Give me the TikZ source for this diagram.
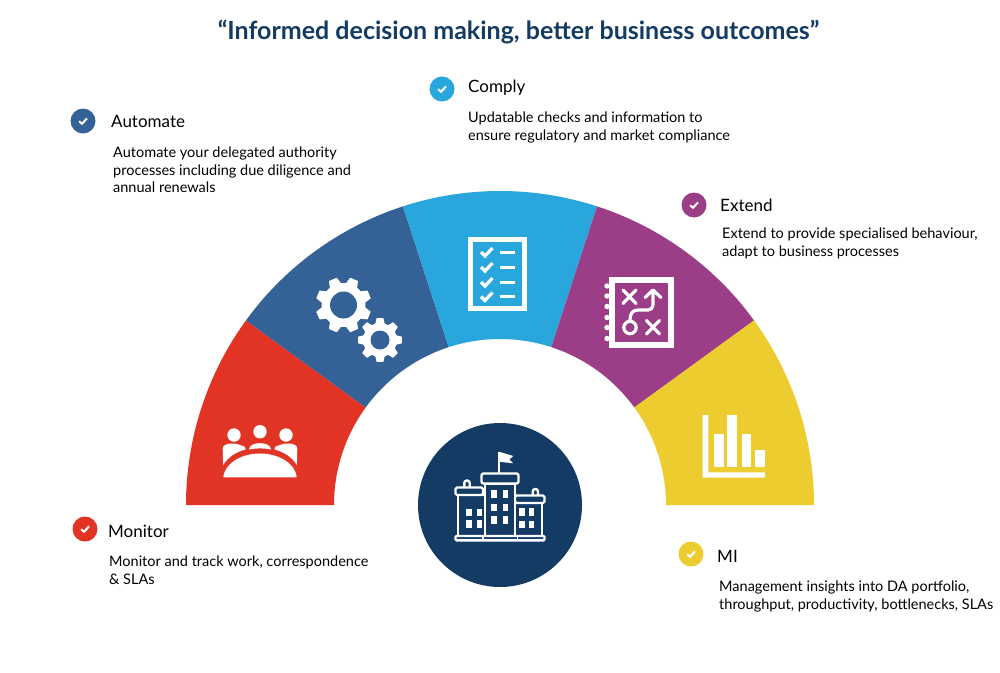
\documentclass[tikz,border=0pt]{standalone}
\usepackage{fontspec}
\usetikzlibrary{calc}
\setmainfont{Lato}
\definecolor{cred}{HTML}{E23424}
\definecolor{cblue}{HTML}{356296}
\definecolor{ccyan}{HTML}{29A7DC}
\definecolor{cpurple}{HTML}{9B3D87}
\definecolor{cyell}{HTML}{ECCC2F}
\definecolor{cnavy}{HTML}{143B64}
\newcommand\gearicon[6]{%
  \begin{scope}[shift={(#1,#2)}]
    \fill[white,draw=white,line width=1,line join=round]
      ({#6-15}:#4)
      \foreach \k [evaluate=\k as \b using 45*\k+#6-15, evaluate=\k as \c using 45*\k+#6-8, evaluate=\k as \d using 45*\k+#6+8, evaluate=\k as \e using 45*\k+#6+15] in {0,...,7}{
        -- (\b:#4) -- (\c:#3) -- (\d:#3) -- (\e:#4)
      } -- cycle;
    \fill[cblue] (0,0) circle[radius=#5];
  \end{scope}}
\newcommand\tickmark[1]{\draw[white,line width=2] ([shift={(-3.8,0.2)}]#1.center) -- ([shift={(-1,2.8)}]#1.center) -- ([shift={(4,-2.6)}]#1.center);}
\tikzset{
  x=1pt,y=-1pt,
  bulletdot/.style={circle,minimum size=25,inner sep=0,fill=#1},
  headtext/.style={anchor=base west,inner sep=0,font=\fontsize{17}{20}\selectfont,text=black},
  bodytext/.style={anchor=north west,inner sep=0,align=left,font=\fontsize{14.5}{17.7}\selectfont,text=black},
  iconline/.style={draw=white,line width=3.2,line cap=round,line join=round},
  bldg/.style={draw=white,line width=2.4,fill=cnavy,line join=round},
}
\begin{document}
\begin{tikzpicture}
\useasboundingbox (0,0) rectangle (1000,672);
\fill[white] (0,0) rectangle (1000,672);
% wedges
\coordinate (c) at (500,505);
\foreach \s/\col in {-180/cred,-144/cblue,-108/ccyan,-72/cpurple,-36/cyell}{
  \pgfmathsetmacro\t{\s+36}
  \fill[\col] ($(c)+(\s:314)$) arc[start angle=\s,end angle=\t,radius=314]
     -- ($(c)+(\t:166)$) arc[start angle=\t,end angle=\s,radius=166] -- cycle;
}
\node[circle,fill=cnavy,minimum size=164,inner sep=0] (hub) at (500,505) {};
% title
\node[anchor=base,inner sep=0,text=cnavy,font=\fontsize{25}{30}\bfseries\selectfont] (title) at (518.5,39) {“Informed decision making, better business outcomes”};
% bullets
\node[bulletdot=cblue] (b1) at (83,121) {}; \tickmark{b1}
\node[bulletdot=ccyan] (b2) at (442,89) {}; \tickmark{b2}
\node[bulletdot=cpurple] (b3) at (694,205) {}; \tickmark{b3}
\node[bulletdot=cred] (b4) at (85,529) {}; \tickmark{b4}
\node[bulletdot=cyell] (b5) at (691,554) {}; \tickmark{b5}
% labels
\node[headtext] (h1) at (111,127) {Automate};
\node[bodytext] (t1) at (113,146.5) {Automate your delegated authority\\processes including due diligence and\\annual renewals};
\node[headtext] (h2) at (468,92) {Comply};
\node[bodytext] (t2) at (468,111.5) {Updatable checks and information to\\ensure regulatory and market compliance};
\node[headtext] (h3) at (720,211) {Extend};
\node[bodytext] (t3) at (722,227.5) {Extend to provide specialised behaviour,\\adapt to business processes};
\node[headtext] (h4) at (108,537) {Monitor};
\node[bodytext] (t4) at (109,555.5) {Monitor and track work, correspondence\\\& SLAs};
\node[headtext] (h5) at (717,562) {MI};
\node[bodytext] (t5) at (719,580.5) {Management insights into DA portfolio,\\throughput, productivity, bottlenecks, SLAs};
% people icon
\fill[white] (234,435) circle[radius=6.7] (260,431.7) circle[radius=6.7] (286,435) circle[radius=6.7];
\fill[white] (223.3,477.3) .. controls (225,462) and (243,453.5) .. (260,453.5) .. controls (277,453.5) and (295,462) .. (296.7,477.3) -- cycle;
\fill[white] (222.7,448.5) .. controls (222.7,443.5) and (234,441) .. (245,447) -- (245.5,449.5) .. controls (236,452) and (228,457) .. (223.2,465) -- cycle;
\fill[white] (297.3,448.5) .. controls (297.3,443.5) and (286,441) .. (275,447) -- (274.5,449.5) .. controls (284,452) and (292,457) .. (296.8,465) -- cycle;
\fill[white] (249,449.5) .. controls (249,441) and (271,441) .. (271,449.5) .. controls (264,448) and (256,448) .. (249,449.5) -- cycle;
% gears
\gearicon{343.5}{305}{27.5}{21.5}{13.5}{22.5}
\gearicon{380}{340}{21.5}{16.5}{9.5}{0}
% checklist
\draw[white,line width=5] (470.8,239.8) rectangle (524.2,308.2);
\foreach \yy in {252,267,282,296.5}{
  \draw[white,line width=3.2] (481,\yy) -- (485,\yy+4) -- (492.5,\yy-4);
  \draw[white,line width=3] (499.5,\yy) -- (515,\yy);
}
% notebook
\draw[white,line width=6] (612.4,279.7) rectangle (671,345.3);
\foreach \yy in {286,296,306.5,317.5,327.5,338.5}{\fill[white] (607,\yy) circle[radius=2.7];}
\draw[iconline] (623,290) -- (636,303.5) (636,290) -- (623,303.5);
\draw[iconline] (646.5,320.5) -- (659.5,334) (659.5,320.5) -- (646.5,334);
\draw[iconline] (630,327.5) circle[radius=6.2];
\draw[iconline] (630,320) .. controls (630,313) and (633,310) .. (638,310) -- (648,310) .. controls (651,310) and (653,308) .. (653,305) -- (653,291.5);
\draw[iconline] (645,297.5) -- (653,290) -- (661,297.5);
% chart
\fill[white] (702.7,415) -- (708.3,415) -- (708.3,472.3) -- (765,472.3) -- (765,477.7) -- (702.7,477.7) -- cycle;
\fill[white] (714,434.3) rectangle (724,466.7);
\fill[white] (727.3,415) rectangle (737.3,466.7);
\fill[white] (741.7,434.3) rectangle (751.3,466.7);
\fill[white] (755.3,450) rectangle (765,466.7);
% building
\draw[white,line width=2] (499,452) -- (499,473);
\fill[white] (499,451.7) -- (513.3,456) -- (509.3,459.4) -- (513.3,463.3) -- (499,461.7) -- cycle;
\draw[bldg,rounded corners=2.5] (464.3,488) -- (464.3,480.5) -- (469.7,480.5) -- (469.7,488);
\draw[bldg,rounded corners=2.5] (532.7,495.5) -- (532.7,489) -- (538,489) -- (538,495.5);
\draw[bldg] (458,495) rectangle (485,536);
\draw[bldg] (515,503) rectangle (541.7,536);
\draw[bldg,rounded corners=1.5] (455.5,487.5) rectangle (483,495);
\draw[bldg,rounded corners=1.5] (515,495.5) rectangle (544.5,503);
\draw[bldg] (485,483.5) rectangle (515,536);
\draw[bldg,rounded corners=2] (481.5,473.5) rectangle (518.5,483.5);
\draw[cnavy,line width=1] (485,478.5) -- (515,478.5);
\draw[bldg,rounded corners=1] (455.5,536) rectangle (544.5,540.3);
\draw[white,line width=1.6] (482.7,536) -- (482.7,540.3) (517.3,536) -- (517.3,540.3);
\foreach \xx/\yy in {469/512.3,479.3/512.3,469/524,479.3/524,494/494,505.7/494,494/507.3,505.7/507.3,494/520,505.7/520,522/511.7,531.7/511.7,522/524.3,531.7/524.3}{
  \fill[white] (\xx-2.6,\yy-3.8) rectangle (\xx+2.6,\yy+3.8);
}
\end{tikzpicture}
\end{document}
